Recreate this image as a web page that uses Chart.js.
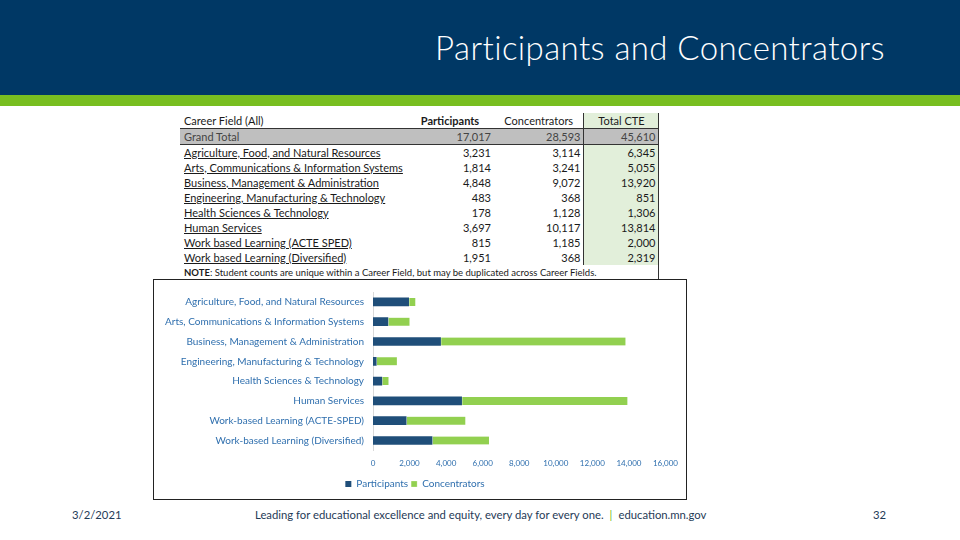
<!DOCTYPE html>
<html>
<head>
<meta charset="utf-8">
<title>Participants and Concentrators</title>
<script src="https://cdn.jsdelivr.net/npm/chart.js@4.4.1/dist/chart.umd.min.js"></script>
<style>
	html, body { margin: 0; padding: 0; }
	body { width: 960px; height: 540px; position: relative; background: #fff; overflow: hidden; font-family: Lato, 'Open Sans', sans-serif; }
	#header { position: absolute; left: 0; top: 0; width: 960px; height: 95px; background: #003865; }
	#stripe { position: absolute; left: 0; top: 95px; width: 960px; height: 11px; background: #78be20; }
	#title { position: absolute; right: 75px; top: 27px; color: #fff; font-size: 33px; font-weight: 300; letter-spacing: 0.4px; white-space: nowrap; }
	#fieldTable { position: absolute; left: 180px; top: 113px; width: 478px; border-collapse: collapse; font-size: 11px; color: #1a1a1a; table-layout: fixed; }
	#fieldTable td { height: 15px; padding: 0 2px 0 4px; white-space: nowrap; line-height: 14px; overflow: visible; }
	#fieldTable td.num { text-align: right; }
	#fieldTable td.cte { background: #e2efda; border-left: 1px solid #333; border-right: 1px solid #333; }
	#fieldTable tr.head td { text-align: center; }
	#fieldTable tr.grand td { background: #bfbfbf; color: #444; border-top: 1px solid #333; border-bottom: 1px solid #333; }
	#fieldTable td.link { text-decoration: underline; }
	#fieldTable td.note { font-size: 9.5px; }
	#chartBox { position: absolute; left: 153px; top: 279px; width: 532px; height: 219px; border: 1.5px solid #222; }
	#footer div { position: absolute; top: 508px; font-size: 11.3px; color: #1f3b57; white-space: nowrap; }
	.bar { color: #78be20; padding: 0 6px; }
</style>
</head>
<body>
<div id="header"></div>
<div id="stripe"></div>
<div id="title">Participants and Concentrators</div>

<table id="fieldTable">
	<colgroup>
		<col style="width:235px"><col style="width:78px"><col style="width:90px"><col style="width:75px">
	</colgroup>
	<tbody id="fieldRows"></tbody>
</table>

<div id="chartBox"><canvas id="careerChart"></canvas></div>

<div id="footer">
	<div style="left:72px">3/2/2021</div>
	<div style="left:255px">Leading for educational excellence and equity, every day for every one.<span class="bar">|</span>education.mn.gov</div>
	<div style="left:873px">32</div>
</div>

<script>
// table (as printed on the slide)
const tableFields = [
	'Agriculture, Food, and Natural Resources',
	'Arts, Communications & Information Systems',
	'Business, Management & Administration',
	'Engineering, Manufacturing & Technology',
	'Health Sciences & Technology',
	'Human Services',
	'Work based Learning (ACTE SPED)',
	'Work based Learning (Diversified)',
];
const tableParticipants = [3231, 1814, 4848, 483, 178, 3697, 815, 1951];
const tableConcentrators = [3114, 3241, 9072, 368, 1128, 10117, 1185, 368];
const tableTotals = [6345, 5055, 13920, 851, 1306, 13814, 2000, 2319];
const grandTotals = [17017, 28593, 45610];

// chart (category order top to bottom, values as drawn)
const categories = [
	'Agriculture, Food, and Natural Resources',
	'Arts, Communications & Information Systems',
	'Business, Management & Administration',
	'Engineering, Manufacturing & Technology',
	'Health Sciences & Technology',
	'Human Services',
	'Work-based Learning (ACTE-SPED)',
	'Work-based Learning (Diversified)',
];
const participants = [1951, 815, 3697, 178, 483, 4848, 1814, 3231];
const concentrators = [368, 1185, 10117, 1128, 368, 9072, 3241, 3114];
const xTicks = [0, 2000, 4000, 6000, 8000, 10000, 12000, 14000, 16000];

const fmt = (v) => Number(v).toLocaleString('en-US');

function buildTable() {
	const body = document.getElementById('fieldRows');
	let html = '<tr class="head"><td style="text-align:left">Career Field (All)</td>'
		+ '<td style="font-weight:bold;padding-right:12px">Participants</td><td>Concentrators</td><td class="cte">Total CTE</td></tr>';
	html += `<tr class="grand"><td>Grand Total</td><td class="num">${fmt(grandTotals[0])}</td>`
		+ `<td class="num">${fmt(grandTotals[1])}</td><td class="num cte" style="background:#bfbfbf">${fmt(grandTotals[2])}</td></tr>`;
	tableFields.forEach((f, i) => {
		html += `<tr><td class="link">${f}</td><td class="num">${fmt(tableParticipants[i])}</td>`
			+ `<td class="num">${fmt(tableConcentrators[i])}</td><td class="num cte">${fmt(tableTotals[i])}</td></tr>`;
	});
	html += '<tr><td class="note" colspan="3"><b>NOTE</b>: Student counts are unique within a Career Field, but may be duplicated across Career Fields.</td><td class="cte" style="border-left:none;background:#fff"></td></tr>';
	body.innerHTML = html;
}
buildTable();

const labelColor = '#2f6fae';

new Chart(document.getElementById('careerChart'), {
	type: 'bar',
	data: {
		labels: categories,
		datasets: [
			{
				label: 'Participants',
				data: participants,
				backgroundColor: '#1f4e79',
				barThickness: 8,
			},
			{
				label: 'Concentrators',
				data: concentrators,
				backgroundColor: '#92d050',
				borderColor: '#ffffff',
				borderWidth: { left: 1, top: 0, right: 0, bottom: 0 },
				borderSkipped: false,
				barThickness: 8,
			},
		],
	},
	options: {
		indexAxis: 'y',
		responsive: true,
		maintainAspectRatio: false,
		animation: false,
		layout: { padding: { top: 12, right: 10, bottom: 0 } },
		plugins: {
			legend: {
				position: 'bottom',
				labels: {
					color: labelColor,
					font: { family: 'Lato', size: 10 },
					usePointStyle: true,
					pointStyle: 'rect',
					boxWidth: 6,
					boxHeight: 6,
					padding: 3,
				},
			},
			tooltip: { enabled: false },
		},
		scales: {
			x: {
				stacked: true,
				min: 0,
				max: 16000,
				grid: { display: false, drawTicks: false },
				border: { display: false },
				afterBuildTicks: (scale) => {
					scale.ticks = xTicks.map((v) => ({ value: v }));
				},
				ticks: {
					color: labelColor,
					font: { family: 'Lato', size: 8 },
					maxRotation: 0,
					padding: 8,
					callback: (value) => fmt(value),
				},
			},
			y: {
				stacked: true,
				grid: { display: false, drawTicks: false },
				border: { display: true, color: '#d9d9d9' },
				afterFit: (scale) => {
					scale.width = 219;
					scale.paddingTop = 0;
					scale.paddingBottom = 0;
				},
				ticks: {
					color: labelColor,
					font: { family: 'Lato', size: 10 },
					padding: 9,
				},
			},
		},
	},
});
</script>
</body>
</html>
